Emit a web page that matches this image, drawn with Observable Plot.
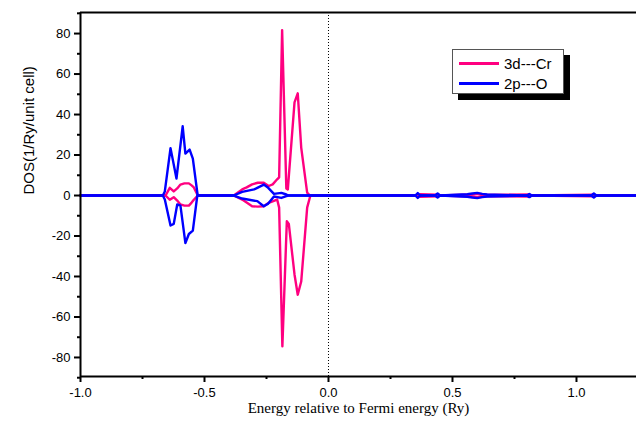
<!DOCTYPE html>
<html>
<head>
<meta charset="utf-8">
<script src="https://cdn.jsdelivr.net/npm/d3@7"></script>
<script src="https://cdn.jsdelivr.net/npm/@observablehq/plot@0.6"></script>
<style>
  html, body { margin: 0; padding: 0; background: #fff; }
  #wrap { position: relative; width: 636px; height: 432px; }
  #legend { position: absolute; left: 452px; top: 49px; width: 110px; height: 43px;
    border: 1px solid #555; background: #fff; box-shadow: 6px 6px 0 #000;
    font-family: "Liberation Sans", Arial, sans-serif; font-size: 15px; }
  .row { position: absolute; left: 6px; height: 20px; display: flex; align-items: center; }
  .sw { width: 40px; height: 3px; margin-right: 5px; }
</style>
</head>
<body>
<div id="wrap"></div>
<script>
// ---- data ----
const seriesNames = ["3d---Cr", "2p---O"];
const seriesColors = ["#FF0080", "#0000FF"];

// 3d---Cr, spin up (positive)
const crUpE = [-1.0, -0.657, -0.640, -0.624, -0.610, -0.597, -0.581, -0.563, -0.552, -0.543, -0.529, -0.524,
  -0.382, -0.365, -0.348, -0.330, -0.308, -0.285, -0.261, -0.241, -0.225, -0.207, -0.199, -0.187, -0.170, -0.164,
  -0.137, -0.124, -0.110, -0.086, -0.075, 0.36, 0.37, 0.44, 0.45, 0.58, 0.60, 0.62, 0.81, 0.82, 1.07, 1.08, 1.242];
const crUpV = [0, 0, 3.8, 2.0, 3.5, 5.4, 6.0, 6.0, 5.0, 4.0, 0.5, 0,
  0, 1.5, 3.0, 4.0, 5.5, 6.3, 6.3, 4.7, 5.5, 8.0, 9.0, 81.7, 3.5, 3.0,
  46.0, 50.5, 23.7, 1.4, 0, 0, 0.6, 0.4, 0, 0.5, 0.8, 0.3, 0.5, 0, 0.4, 0, 0];

// 3d---Cr, spin down (negative)
const crDnE = [-1.0, -0.657, -0.640, -0.624, -0.610, -0.597, -0.581, -0.563, -0.552, -0.543, -0.529, -0.524,
  -0.382, -0.348, -0.330, -0.308, -0.285, -0.261, -0.241, -0.207, -0.199, -0.186, -0.168, -0.160,
  -0.137, -0.124, -0.110, -0.086, -0.073, 0.36, 0.37, 0.44, 0.45, 0.58, 0.60, 0.62, 0.81, 0.82, 1.07, 1.08, 1.242];
const crDnV = [0, 0, -2.1, -0.8, -2.5, -4.4, -5.0, -5.0, -3.5, -2.1, -0.3, 0,
  0, -2.0, -3.5, -5.3, -5.5, -5.3, -3.6, -2.0, -6.0, -74.5, -12.7, -14.0,
  -39.0, -49.0, -42.5, -6.0, 0, 0, -0.6, -0.4, 0, -0.5, -0.8, -0.3, -0.5, 0, -0.4, 0, 0];

// 2p---O, spin up (positive)
const oUpE = [-1.0, -0.668, -0.660, -0.637, -0.613, -0.588, -0.577, -0.560, -0.547, -0.528, -0.524,
  -0.382, -0.348, -0.300, -0.287, -0.261, -0.243, -0.220, -0.190, -0.170, -0.160,
  0.35, 0.36, 0.37, 0.43, 0.44, 0.45, 0.56, 0.58, 0.60, 0.62, 0.64, 0.80, 0.81, 0.82, 1.06, 1.07, 1.08, 1.242];
const oUpV = [0, 0, 2.0, 23.4, 8.4, 34.2, 20.7, 22.7, 18.2, 0.5, 0,
  0, 1.8, 3.0, 3.8, 5.4, 3.8, 0.8, 1.3, 0.5, 0,
  0, 1.2, 0, 0, 1.0, 0, 0.6, 1.0, 1.3, 0.8, 0.5, 0, 0.8, 0, 0, 1.0, 0, 0];

// 2p---O, spin down (negative)
const oDnE = [-1.0, -0.668, -0.660, -0.637, -0.624, -0.610, -0.597, -0.577, -0.563, -0.547, -0.529,
  -0.382, -0.348, -0.287, -0.261, -0.243, -0.220, -0.190, -0.170, -0.160,
  0.35, 0.36, 0.37, 0.43, 0.44, 0.45, 0.56, 0.58, 0.60, 0.62, 0.64, 0.80, 0.81, 0.82, 1.06, 1.07, 1.08, 1.242];
const oDnV = [0, 0, -2.0, -14.8, -14.0, -4.4, -5.0, -23.5, -19.0, -17.3, 0,
  0, -1.5, -2.8, -5.3, -4.0, -0.5, -1.2, -0.3, 0,
  0, -1.2, 0, 0, -1.0, 0, -0.6, -1.0, -1.3, -0.8, -0.5, 0, -0.8, 0, 0, -1.0, 0, 0];

const xMajorTicks = [-1.0, -0.5, 0.0, 0.5, 1.0];
const xMinorTicks = [-0.75, -0.25, 0.25, 0.75];
const yMajorTicks = [-80, -60, -40, -20, 0, 20, 40, 60, 80];
const yMinorTicks = [-90, -70, -50, -30, -10, 10, 30, 50, 70, 90];
const xDomain = [-1.0, 1.242];
const yDomain = [-89.4, 90.4];
const xTitle = "Energy relative to Fermi energy (Ry)";
const yTitle = "DOS(1/Ry/unit cell)";
const fermiLevel = [0];

// ---- build ----
const toRows = (E, V) => E.map((e, i) => ({e, v: V[i]}));
const crUp = toRows(crUpE, crUpV), crDn = toRows(crDnE, crDnV);
const oUp = toRows(oUpE, oUpV), oDn = toRows(oDnE, oDnV);

const sans = "'Liberation Sans', Arial, sans-serif";
const serif = "'Liberation Serif', 'Times New Roman', serif";
const hyphen = (f) => (d) => f(d).replace("\u2212", "-");
const lineOpts = (color) => ({x: "e", y: "v", stroke: color, strokeWidth: 2.4, strokeLinejoin: "round"});

const chart = Plot.plot({
  width: 636,
  height: 432,
  marginLeft: 80,
  marginRight: 0,
  marginTop: 12,
  marginBottom: 56,
  style: {fontFamily: sans, fontSize: "13px", color: "#000", background: "#fff"},
  x: {domain: xDomain},
  y: {domain: yDomain},
  marks: [
    Plot.ruleX(fermiLevel, {stroke: "#000", strokeWidth: 1, strokeDasharray: "1,2"}),
    Plot.line(crUp, lineOpts(seriesColors[0])),
    Plot.line(crDn, lineOpts(seriesColors[0])),
    Plot.line(oUp, lineOpts(seriesColors[1])),
    Plot.line(oDn, lineOpts(seriesColors[1])),
    Plot.ruleX([xDomain[0]], {stroke: "#000", strokeWidth: 2}),
    Plot.ruleY([yDomain[0]], {stroke: "#000", strokeWidth: 2}),
    Plot.ruleY([yDomain[1]], {stroke: "#000", strokeWidth: 2}),
    Plot.axisY({ticks: yMajorTicks, tickSize: 6, tickPadding: 4, tickFormat: hyphen(d3.format("d")), label: null, strokeWidth: 2, fontSize: 13}),
    Plot.axisY({ticks: yMinorTicks, tickSize: 3, tickFormat: () => "", label: null, strokeWidth: 2}),
    Plot.axisX({ticks: xMajorTicks, tickSize: 6, tickPadding: 5, tickFormat: hyphen(d3.format(".1f")), label: null, strokeWidth: 2, fontSize: 13}),
    Plot.axisX({ticks: xMinorTicks, tickSize: 3, tickFormat: () => "", label: null, strokeWidth: 2}),
    Plot.text([xTitle], {frameAnchor: "bottom", dy: 36, fontFamily: serif, fontSize: 15, fill: "#000"}),
    Plot.text([yTitle], {frameAnchor: "left", dx: -51, rotate: -90, fontFamily: sans, fontSize: 15, fill: "#000"})
  ]
});

const wrap = document.getElementById("wrap");
wrap.appendChild(chart);

const legend = document.createElement("div");
legend.id = "legend";
seriesNames.forEach((name, i) => {
  const row = document.createElement("div");
  row.className = "row";
  row.style.top = (3 + i * 20) + "px";
  const sw = document.createElement("div");
  sw.className = "sw";
  sw.style.background = seriesColors[i];
  const label = document.createElement("span");
  label.textContent = name;
  row.appendChild(sw);
  row.appendChild(label);
  legend.appendChild(row);
});
wrap.appendChild(legend);
</script>
</body>
</html>
